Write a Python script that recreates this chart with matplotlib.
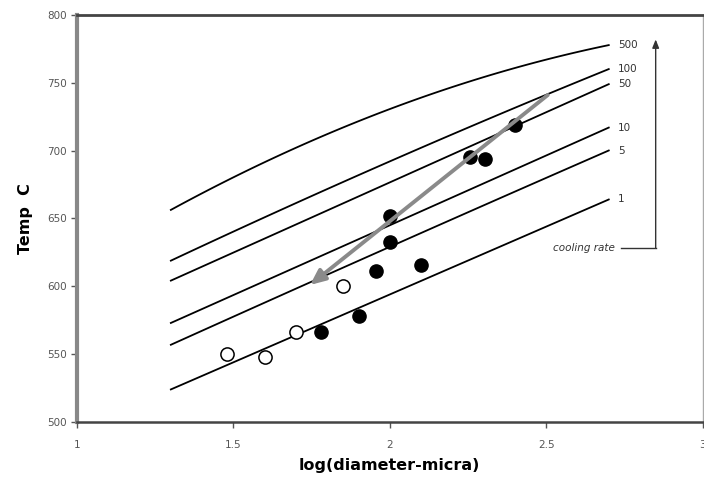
import matplotlib
matplotlib.use('Agg')
import matplotlib.pyplot as plt
import numpy as np

# cooling-rate curves, values
rates = ['500', '100', '50', '10', '5', '1']
curve_x = [
    [1.3, 1.69, 2.01, 2.33, 2.7],
    [1.3, 1.65, 2.0, 2.35, 2.7],
    [1.3, 1.65, 2.0, 2.35, 2.7],
    [1.3, 1.65, 2.0, 2.35, 2.7],
    [1.3, 1.65, 2.0, 2.35, 2.7],
    [1.3, 1.65, 2.0, 2.35, 2.7],
]
curve_T = [
    [656, 702, 731, 756, 778],
    [619, 656, 692, 727, 760],
    [604, 641, 676, 713, 749],
    [573, 609, 645, 681, 717],
    [557, 593, 629, 665, 700],
    [524, 559, 594, 629, 664],
]

# measured points
open_x = [1.48, 1.60, 1.70, 1.85]
open_T = [550, 548, 566, 600]
fill_x = [1.78, 1.90, 1.955, 2.10, 2.00, 2.00, 2.255, 2.305, 2.40]
fill_T = [566, 578, 611, 616, 652, 633, 695, 694, 719]

grey = '#555555'

fig = plt.figure(figsize=(7.04, 4.83), dpi=100)
ax = fig.add_axes([0.1094, 0.1263, 0.8886, 0.8427])

for cx, T in zip(curve_x, curve_T):
    # smooth quadratic through the read points
    c = np.polyfit(cx, T, 2)
    xs = np.linspace(cx[0], cx[-1], 60)
    ax.plot(xs, np.polyval(c, xs), c='k', lw=1.3, zorder=2)
for lab, T in zip(rates, curve_T):
    ax.text(2.73, T[-1], lab, fontsize=7.5, color='#333333', va='center', ha='left')

ax.plot(open_x, open_T, 'o', ms=9.5, mfc='white', mec='k', mew=1.1, zorder=4)
ax.plot(fill_x, fill_T, 'o', ms=9.5, mfc='k', mec='k', zorder=4)

# grey trend arrow
ax.annotate('', xy=(1.745, 601), xytext=(2.505, 741),
            arrowprops=dict(arrowstyle='-|>,head_length=0.9,head_width=0.4',
                            color='#8a8a8a', lw=2.8, shrinkA=0, shrinkB=0), zorder=5)

# cooling rate indicator
ax.annotate('', xy=(2.85, 782), xytext=(2.85, 628),
            arrowprops=dict(arrowstyle='-|>,head_length=0.5,head_width=0.2',
                            color='#333333', lw=1.0, shrinkA=0, shrinkB=0))
ax.plot([2.74, 2.85], [628, 628], c='#333333', lw=1.0)
ax.text(2.72, 628, 'cooling rate', fontsize=7.5, style='italic', color='#333333',
        ha='right', va='center')

ax.set_xlim(1, 3)
ax.set_ylim(500, 800)
ax.set_xticks([1, 1.5, 2, 2.5, 3])
ax.set_xticklabels(['1', '1.5', '2', '2.5', '3'])
ax.set_yticks(np.arange(500, 801, 50))
ax.tick_params(axis='both', direction='out', length=4, width=1, colors=grey,
               labelsize=7.5, labelcolor=grey)
ax.tick_params(axis='x', pad=9)

ax.set_xlabel('log(diameter-micra)', fontweight='bold', fontsize=11.5, labelpad=6)
ax.set_ylabel('Temp  C', fontweight='bold', fontsize=11.5, labelpad=10)

ax.spines['left'].set_color('#888888')
ax.spines['left'].set_linewidth(3)
ax.spines['top'].set_color('#444444')
ax.spines['top'].set_linewidth(2)
ax.spines['bottom'].set_color('#444444')
ax.spines['bottom'].set_linewidth(1.8)
ax.spines['right'].set_color('#aaaaaa')
ax.spines['right'].set_linewidth(1)

fig.savefig('out.png', dpi=100)
